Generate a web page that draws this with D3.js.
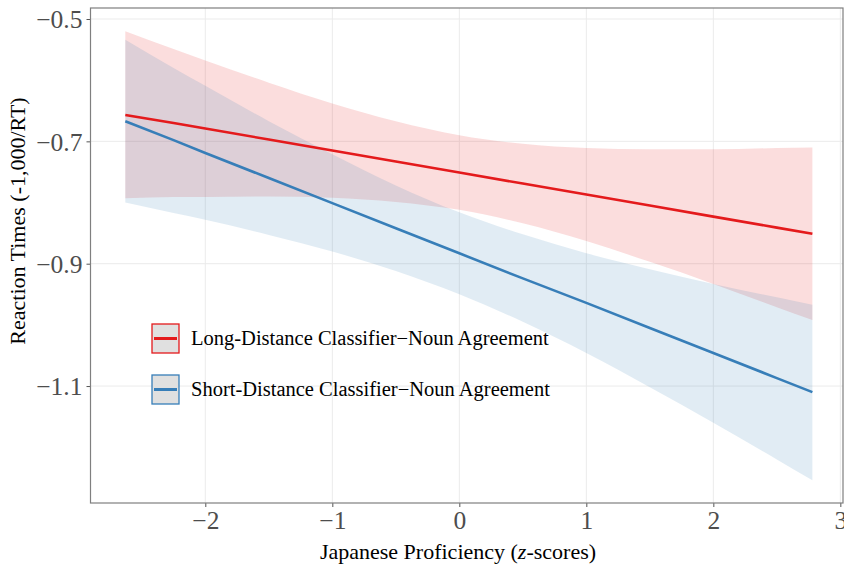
<!DOCTYPE html>
<html>
<head>
<meta charset="utf-8">
<script src="https://cdn.jsdelivr.net/npm/d3@7"></script>
<style>
  body { margin: 0; background: #fff; }
  text { font-family: "Liberation Serif", "DejaVu Serif", serif; }
</style>
</head>
<body>
<div id="chart"></div>
<script>
// values
const proficiency = [-2.63, -2.25, -2, -1.5, -1, -0.5, 0, 0.5, 1, 1.5, 2, 2.5, 2.78];

const longFit   = [-0.657, -0.670, -0.679, -0.697, -0.715, -0.733, -0.751, -0.769, -0.787, -0.805, -0.823, -0.841, -0.851];
const longUpper = [-0.520, -0.549, -0.568, -0.604, -0.638, -0.667, -0.690, -0.704, -0.711, -0.713, -0.713, -0.711, -0.710];
const longLower = [-0.793, -0.791, -0.791, -0.790, -0.792, -0.799, -0.812, -0.834, -0.863, -0.897, -0.933, -0.971, -0.992];

const shortFit   = [-0.667, -0.698, -0.719, -0.760, -0.801, -0.842, -0.883, -0.924, -0.964, -1.005, -1.046, -1.087, -1.110];
const shortUpper = [-0.534, -0.580, -0.609, -0.667, -0.721, -0.772, -0.816, -0.852, -0.883, -0.909, -0.933, -0.955, -0.967];
const shortLower = [-0.800, -0.817, -0.828, -0.853, -0.880, -0.912, -0.950, -0.995, -1.046, -1.102, -1.160, -1.220, -1.254];

const xTicks = [-2, -1, 0, 1, 2, 3];
const yTicks = [-0.5, -0.7, -0.9, -1.1];

const series = [
  { name: "Long-Distance Classifier\u2212Noun Agreement", fit: longFit, upper: longUpper, lower: longLower, color: "#E41A1C" },
  { name: "Short-Distance Classifier\u2212Noun Agreement", fit: shortFit, upper: shortUpper, lower: shortLower, color: "#377EB8" }
];

const width = 844, height = 565;
const margin = { top: 8, right: 1, bottom: 62, left: 90.5 };

const svg = d3.select("#chart").append("svg")
  .attr("width", width)
  .attr("height", height);

const xScale = d3.scaleLinear()
  .domain([-2.904, 3.021])
  .range([margin.left, width - margin.right]);

const yScale = d3.scaleLinear()
  .domain([-1.2912, -0.482])
  .range([height - margin.bottom, margin.top]);

// grid
svg.append("g").selectAll("line.vg")
  .data(xTicks).enter().append("line")
  .attr("x1", d => xScale(d)).attr("x2", d => xScale(d))
  .attr("y1", margin.top).attr("y2", height - margin.bottom)
  .attr("stroke", "#ebebeb").attr("stroke-width", 1);
svg.append("g").selectAll("line.hg")
  .data(yTicks).enter().append("line")
  .attr("x1", margin.left).attr("x2", width - margin.right)
  .attr("y1", d => yScale(d)).attr("y2", d => yScale(d))
  .attr("stroke", "#ebebeb").attr("stroke-width", 1);

// bands
series.forEach(s => {
  const pts = proficiency.map((x, i) => ({ x: x, lo: s.lower[i], hi: s.upper[i] }));
  svg.append("path")
    .datum(pts)
    .attr("fill", s.color)
    .attr("fill-opacity", 0.15)
    .attr("d", d3.area()
      .x(d => xScale(d.x))
      .y0(d => yScale(d.lo))
      .y1(d => yScale(d.hi))
      .curve(d3.curveMonotoneX));
});

// fitted lines
series.forEach(s => {
  svg.append("path")
    .datum(proficiency.map((x, i) => ({ x: x, y: s.fit[i] })))
    .attr("fill", "none")
    .attr("stroke", s.color)
    .attr("stroke-width", 2.6)
    .attr("d", d3.line().x(d => xScale(d.x)).y(d => yScale(d.y)));
});

// axes
const xAxis = svg.append("g")
  .attr("transform", `translate(0,${height - margin.bottom})`)
  .call(d3.axisBottom(xScale).tickValues(xTicks).tickSize(4).tickPadding(4).tickFormat(d3.format("d")));
const yAxis = svg.append("g")
  .attr("transform", `translate(${margin.left},0)`)
  .call(d3.axisLeft(yScale).tickValues(yTicks).tickSize(4).tickPadding(4).tickFormat(d3.format(".1f")));

[xAxis, yAxis].forEach(g => {
  g.select(".domain").remove();
  g.selectAll(".tick line").attr("stroke", "#555");
  g.selectAll(".tick text")
    .attr("fill", "#4d4d4d")
    .style("font-size", "25.5px")
    .style("font-family", "Liberation Serif");
});
yAxis.selectAll(".tick text").attr("dy", "0.34em");

// panel border
svg.append("rect")
  .attr("x", margin.left).attr("y", margin.top)
  .attr("width", width - margin.right - margin.left)
  .attr("height", height - margin.bottom - margin.top)
  .attr("fill", "none")
  .attr("stroke", "#7f7f7f")
  .attr("stroke-width", 1.2);

// axis titles
const xTitle = svg.append("text")
  .attr("x", 458)
  .attr("y", 559)
  .attr("text-anchor", "middle")
  .style("font-size", "22px")
  .attr("fill", "#000");
xTitle.append("tspan").text("Japanese Proficiency (");
xTitle.append("tspan").style("font-style", "italic").text("z");
xTitle.append("tspan").text("-scores)");

svg.append("text")
  .attr("transform", "translate(25,221) rotate(-90)")
  .attr("text-anchor", "middle")
  .style("font-size", "22px")
  .attr("fill", "#000")
  .text("Reaction Times (-1,000/RT)");

// legend
const legend = svg.append("g").attr("transform", "translate(152,324)");
series.forEach((s, i) => {
  const row = legend.append("g").attr("transform", `translate(0,${i * 51})`);
  row.append("rect")
    .attr("x", 0).attr("y", 0).attr("width", 27).attr("height", 29)
    .attr("fill", "#e0e0e0")
    .attr("stroke", s.color).attr("stroke-width", 1.3);
  row.append("line")
    .attr("x1", 2).attr("x2", 25).attr("y1", 14.5).attr("y2", 14.5)
    .attr("stroke", s.color).attr("stroke-width", 3);
  row.append("text")
    .attr("x", 39).attr("y", 21)
    .style("font-size", "20.5px")
    .attr("fill", "#000")
    .text(s.name);
});
</script>
</body>
</html>
